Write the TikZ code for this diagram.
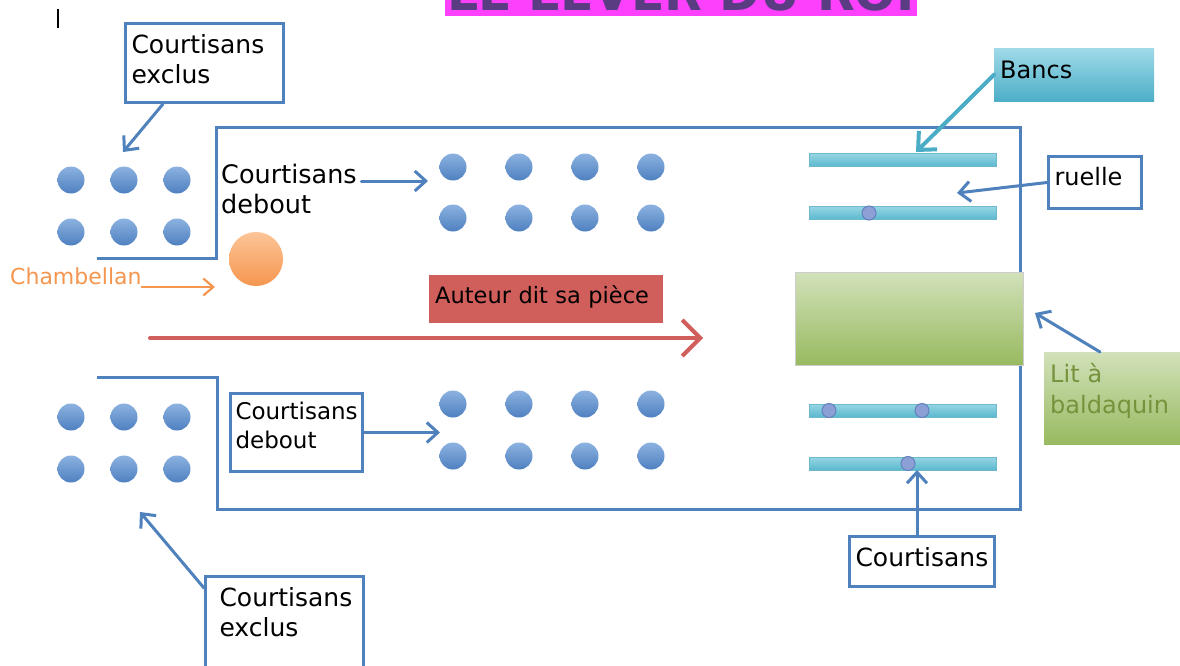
\documentclass[tikz,border=0pt]{standalone}
\usepackage{fontspec}
\setmainfont{DejaVu Sans}
\usetikzlibrary{arrows.meta,calc}
\definecolor{wall}{RGB}{79,129,189}
\definecolor{dottop}{RGB}{140,178,224}
\definecolor{dotbot}{RGB}{78,128,192}
\definecolor{orangetop}{RGB}{252,196,150}
\definecolor{orangebot}{RGB}{246,150,80}
\definecolor{chamb}{RGB}{244,150,80}
\definecolor{benchtop}{RGB}{150,214,228}
\definecolor{benchbot}{RGB}{90,184,206}
\definecolor{benchline}{RGB}{110,185,205}
\definecolor{smalldot}{RGB}{140,160,214}
\definecolor{smalldotline}{RGB}{100,128,190}
\definecolor{bedtop}{RGB}{210,225,186}
\definecolor{bedbot}{RGB}{152,186,96}
\definecolor{littext}{RGB}{118,146,60}
\definecolor{bancstop}{RGB}{160,218,232}
\definecolor{bancsbot}{RGB}{76,174,200}
\definecolor{bancsarrow}{RGB}{75,172,198}
\definecolor{auteurred}{RGB}{208,94,90}
\definecolor{titlemag}{RGB}{252,64,252}
\definecolor{titletext}{RGB}{90,60,130}
\begin{document}
\begin{tikzpicture}[x=1pt,y=-1pt,
  lbl/.style={font=\fontsize{25}{30}\selectfont, align=left, inner ysep=0pt, inner xsep=6pt, anchor=north west},
  boxed/.style={draw=wall, line width=3pt, fill=white},
  wallline/.style={draw=wall, line width=3pt},
  barrow/.style={draw=wall, line width=3pt, line cap=round, -{Straight Barb[length=11pt,width=20pt]}},
  bigdot/.style={top color=dottop, bottom color=dotbot, draw=none},
  bench/.style={top color=benchtop, bottom color=benchbot, draw=benchline, line width=0.8pt},
  sdot/.style={fill=smalldot, draw=smalldotline, line width=1pt}
]
\useasboundingbox (0,0) rectangle (1180,666);
\fill[white] (0,0) rectangle (1180,666);

% title (cut off at the top)
\begin{scope}
  \clip (445,0) rectangle (917,16);
  \fill[titlemag] (445,-5) rectangle (917,16);
  \node[font=\fontsize{49}{55}\selectfont\bfseries, text=titletext, anchor=base, inner sep=0pt] (title) at (681,11) {LE LEVER DU ROI};
\end{scope}

% cursor
\draw[line width=1.3pt] (58,9) -- (58,28);

% room walls
\draw[wallline] (97,258) -- (216,258) -- (216,128) -- (1020,128) -- (1020,509) -- (217,509) -- (217,377) -- (97,377);

% blue dots
\foreach \x in {71,124,177}{
  \foreach \y in {180,232,417,469}{
    \shade[bigdot] (\x,\y) circle[radius=13.5];
  }
}
\foreach \x in {453,519,585,651}{
  \foreach \y in {167,218,404,456}{
    \shade[bigdot] (\x,\y) circle[radius=13.5];
  }
}

% chamberlain
\shade[top color=orangetop, bottom color=orangebot] (256,259) circle[radius=27];

% benches
\foreach \y in {160,213,410.5,463.5}{
  \shade[bench] (809,\y-6.5) rectangle (996,\y+6.5);
}
\filldraw[sdot] (869,213) circle[radius=7];
\filldraw[sdot] (829,410.5) circle[radius=7];
\filldraw[sdot] (922,410.5) circle[radius=7];
\filldraw[sdot] (908,463.5) circle[radius=7];

% bed
\shade[top color=bedtop, bottom color=bedbot, draw=gray!40, line width=0.6pt] (795,272) rectangle (1023,365);

% red arrow
\coordinate (rs) at (150,338);
\coordinate (re) at (703,338);
\draw[draw=auteurred, line width=4pt, line cap=round, -{Straight Barb[length=18pt,width=36pt]}] (rs) -- (re);

% labels
\node[lbl, boxed, text width=146pt] (exA) at (124,22) {\rule{0pt}{30pt}Courtisans\\exclus\rule[-19pt]{0pt}{19pt}};
\node[lbl, font=\fontsize{25.5}{30}\selectfont, inner xsep=0pt, text width=140pt] (deb1) at (221,153) {\rule{0pt}{30pt}Courtisans\\debout};
\node[lbl, boxed, font=\fontsize{23}{29}\selectfont, inner xsep=5pt, text width=122pt] (deb2) at (229,392) {\rule{0pt}{26pt}Courtisans\\debout\rule[-23pt]{0pt}{23pt}};
\node[lbl, boxed, inner xsep=14pt, text width=130pt] (exB) at (204,575) {\rule{0pt}{30pt}Courtisans\\exclus\rule[-110pt]{0pt}{110pt}};
\node[lbl, font=\fontsize{24}{30}\selectfont, top color=bancstop, bottom color=bancsbot, text width=148pt] (bancs) at (994,48) {\rule{0pt}{30pt}Bancs\rule[-23pt]{0pt}{23pt}};
\node[lbl, font=\fontsize{24}{30}\selectfont, boxed, text width=81pt] (ruelle) at (1047,155) {\rule{0pt}{29pt}ruelle\rule[-23pt]{0pt}{23pt}};
\node[lbl, font=\fontsize{24}{31}\selectfont, top color=bedtop, bottom color=bedbot, text=littext, text width=124pt] (lit) at (1044,352) {\rule{0pt}{30pt}Lit à\\baldaquin\rule[-31pt]{0pt}{31pt}};
\node[lbl, boxed, text width=133pt] (court) at (848,535) {\rule{0pt}{30pt}Courtisans\rule[-20pt]{0pt}{20pt}};
\node[lbl, font=\fontsize{22.5}{28}\selectfont, fill=auteurred, text width=222pt] (auteur) at (429,275) {\rule{0pt}{28pt}\mbox{Auteur dit sa pièce}\rule[-20pt]{0pt}{20pt}};
\node[font=\fontsize{22}{28}\selectfont, text=chamb, anchor=base west, inner sep=0pt] (cham) at (10,284) {Chambellan};

% connectors
\coordinate (exAt) at (123,152);
\coordinate (deb1t) at (428,181);
\coordinate (deb2t) at (440,0);
\coordinate (exBt) at (140,512);
\coordinate (bancst) at (916,152);
\coordinate (ruellet) at (957,193);
\coordinate (litt) at (1035,313);
\coordinate (chamt) at (215,287);

\draw[barrow] ([xshift=39pt]exA.south west) -- (exAt);
\draw[barrow] (deb1.east |- deb1t) -- (deb1t);
\draw[barrow] (deb2.east) -- (deb2.east -| deb2t);
\draw[barrow] ([yshift=-13pt]exB.north west) -- (exBt);
\draw[draw=bancsarrow, line width=4pt, line cap=round, -{Straight Barb[length=14pt,width=26pt]}] (bancs.west) -- (bancst);
\draw[barrow] (ruelle.west) -- (ruellet);
\draw[barrow] ([xshift=56pt]lit.north west) -- (litt);
\draw[barrow] ([xshift=-5pt]court.north) -- ++(0,-65);
\draw[draw=chamb, line width=2.2pt, line cap=round, -{Straight Barb[length=10pt,width=17pt]}] (cham.east |- chamt) -- (chamt);
\end{tikzpicture}
\end{document}
